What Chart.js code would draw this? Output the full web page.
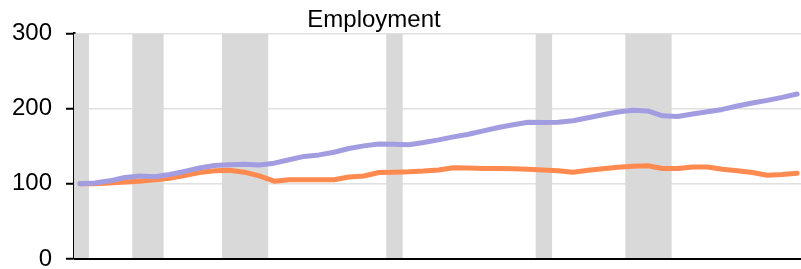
<!DOCTYPE html>
<html>
<head>
<meta charset="utf-8">
<script src="https://cdn.jsdelivr.net/npm/chart.js@4.4.1/dist/chart.umd.min.js"></script>
<style>
  html, body { margin: 0; padding: 0; background: #fff; overflow: hidden; }
  #wrap { position: relative; width: 801px; height: 269px; }
  #title { position: absolute; left: 274px; width: 200px; top: 5px; text-align: center;
           font-family: "Liberation Sans", Arial, sans-serif; font-size: 24px; color: #000; line-height: normal; }
</style>
</head>
<body>
<div id="wrap">
  <canvas id="c"></canvas>
  <div id="title">Employment</div>
</div>
<script>
// ---- data ----
const years = [1970,1971,1972,1973,1974,1975,1976,1977,1978,1979,
               1980,1981,1982,1983,1984,1985,1986,1987,1988,1989,
               1990,1991,1992,1993,1994,1995,1996,1997,1998,1999,
               2000,2001,2002,2003,2004,2005,2006,2007,2008,2009,
               2010,2011,2012,2013,2014,2015,2016,2017,2018];
const purpleSeries = [100,101,104,108.5,110.5,109.5,112.5,116.5,121,124.5,
                      125.5,126,125,127.5,132,136.5,138.5,142,147,150.5,
                      153,152.5,152,155,158.5,162.5,166,170.5,175,178.5,
                      182,181.5,182,184,188,192,195.5,198,197,190.5,
                      189.5,193,196,199,203.5,207.5,211,215,219.5];
const orangeSeries = [100,100,101,102.5,103.5,105.5,107.5,111,115,117.5,
                      118,115.5,110.5,103.5,105.5,105.5,105.5,105.5,109,110.5,
                      115,115.5,116,117,118.5,121.5,121,120.5,120.5,120,
                      119.5,118.5,117.5,115.5,118,120,122,123.5,124,120.5,
                      120.5,122.5,122.5,119.5,117.5,115,111.5,112.5,114];
const recessionStart = [1970, 1974, 1980, 1991, 2001, 2007];
const recessionEnd   = [1971, 1976, 1983, 1992, 2002, 2010];
const yTicks = [0, 100, 200, 300];

const pts = arr => arr.map((v, i) => ({ x: years[i] + 0.5, y: v }));

const bandPlugin = {
  id: 'bands',
  beforeDatasetsDraw(chart) {
    const { ctx, chartArea: a, scales: { x } } = chart;
    ctx.save();
    ctx.beginPath();
    ctx.rect(a.left, a.top, a.right - a.left, a.bottom - a.top);
    ctx.clip();
    ctx.fillStyle = '#d9d9d9';
    recessionStart.forEach((s, i) => {
      const x0 = x.getPixelForValue(s);
      const x1 = x.getPixelForValue(recessionEnd[i]) + 1.5;
      ctx.fillRect(x0, a.top, x1 - x0, a.bottom - a.top);
    });
    ctx.restore();
  },
  afterDatasetsDraw(chart) {
    const { ctx, chartArea: a, scales: { y } } = chart;
    const yp = y.getPixelForValue(0);
    ctx.save();
    ctx.strokeStyle = '#000';
    ctx.lineWidth = 2;
    ctx.beginPath();
    ctx.moveTo(a.left, yp);
    ctx.lineTo(a.right, yp);
    ctx.stroke();
    ctx.restore();
  }
};

const font = { family: '"Liberation Sans", Arial, sans-serif', size: 24 };

new Chart(document.getElementById('c'), {
  type: 'line',
  data: {
    datasets: [
      { data: pts(purpleSeries), borderColor: '#a29de1', borderWidth: 5, pointRadius: 0,
        tension: 0, borderCapStyle: 'round', borderJoinStyle: 'round', order: 0 },
      { data: pts(orangeSeries), borderColor: '#ff8a50', borderWidth: 5, pointRadius: 0,
        tension: 0, borderCapStyle: 'round', borderJoinStyle: 'round', order: 1 }
    ]
  },
  options: {
    responsive: true,
    maintainAspectRatio: false,
    animation: false,
    devicePixelRatio: 1,
    layout: { autoPadding: false, padding: { top: 33.5, bottom: 10, left: 0, right: 0 } },
    plugins: { legend: { display: false }, title: { display: false }, tooltip: { enabled: false } },
    scales: {
      x: {
        type: 'linear', min: 1970.1, max: 2018.76,
        display: false
      },
      y: {
        min: 0, max: 300,
        afterBuildTicks: s => { s.ticks = yTicks.map(v => ({ value: v })); },
        ticks: { font, color: '#000', padding: 14 },
        grid: {
          color: c => c.tick && c.tick.value === 0 ? 'rgba(0,0,0,0)' : '#e0e0e0',
          lineWidth: 1.5, tickLength: 8, tickColor: '#000', tickWidth: 2
        },
        border: { display: true, color: '#000', width: 2.5 },
        afterFit: s => { s.width = 74; s.paddingTop = 0; s.paddingBottom = 0; }
      }
    }
  },
  plugins: [bandPlugin]
});
</script>
</body>
</html>
